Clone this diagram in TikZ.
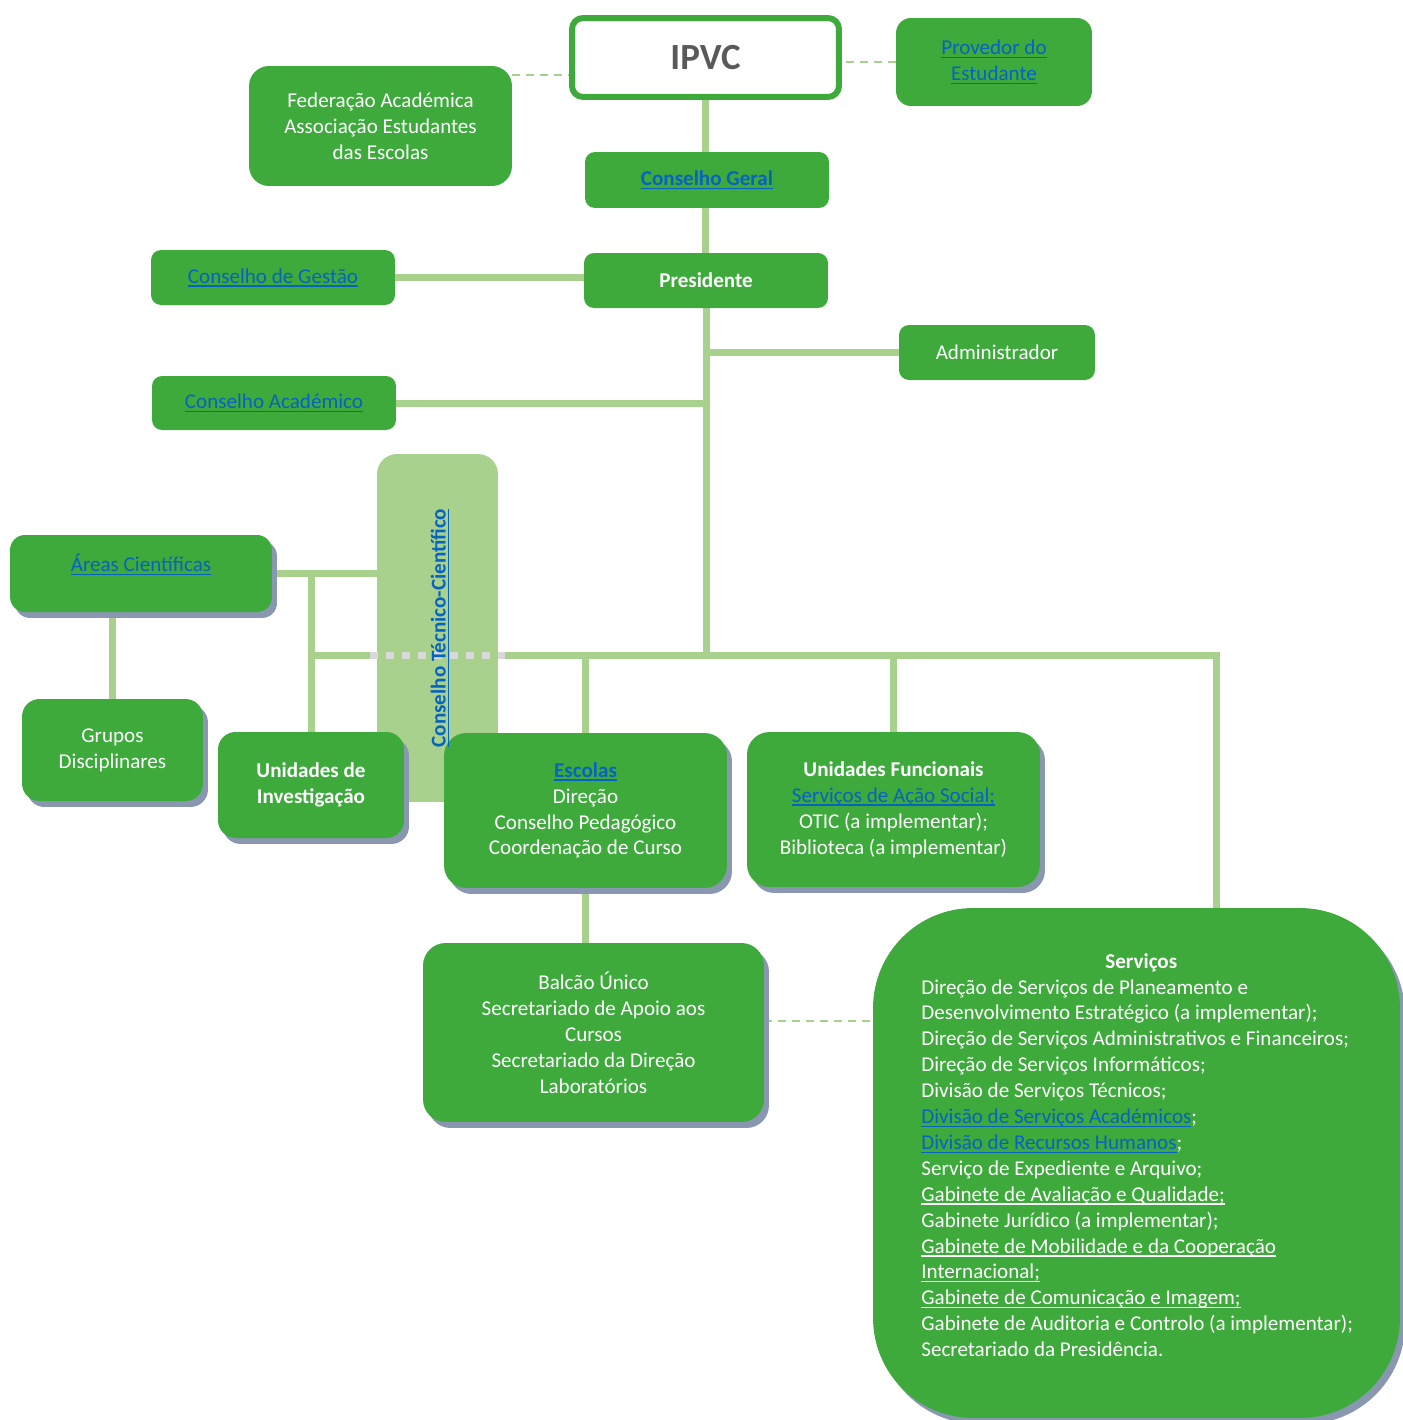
\documentclass[tikz,border=0pt]{standalone}
\usepackage{fontspec}
\setmainfont{Carlito}
\usepackage{tikz}
\usetikzlibrary{shadows,backgrounds,calc}
\definecolor{ipvcgreen}{RGB}{62,170,60}
\definecolor{linegreen}{RGB}{169,209,142}
\definecolor{linkblue}{RGB}{5,99,193}
\definecolor{shadowblue}{RGB}{138,151,176}
\definecolor{dotgray}{RGB}{217,217,217}
\definecolor{titlegray}{RGB}{89,89,89}
\newcommand{\ulc}[1]{{\setbox0=\hbox{#1}\rlap{\rule[-2pt]{\wd0}{0.8pt}}\box0}}
\newcommand{\lnk}[1]{{\color{linkblue}\ulc{#1}}}
\tikzstyle{box}=[rounded corners=0.2cm, fill=ipvcgreen, text=white, align=center, inner sep=0pt, font=\fontsize{12}{14.74}\selectfont]
\tikzstyle{shbox}=[box, rounded corners=0.45cm, drop shadow={shadow xshift=0.1cm, shadow yshift=-0.12cm, fill=shadowblue, opacity=1}]
\tikzstyle{conn}=[linegreen, line width=0.14cm]
\tikzstyle{dashconn}=[linegreen, line width=0.04cm, dash pattern=on 0.16cm off 0.12cm]

\begin{document}
\begin{tikzpicture}[x=0.02cm, y=-0.02cm]
            \useasboundingbox (0,0) rectangle (1403,1420);
            %%%%% topo
            \node[box, fill=white, draw=ipvcgreen, line width=0.12cm, rounded corners=0.22cm, minimum width=5.34cm, minimum height=1.58cm, text=titlegray, font=\fontsize{21}{25}\selectfont\bfseries] (ipvc) at (705.5,57.5) {IPVC};
            \node[box, rounded corners=0.3cm, minimum width=3.92cm, minimum height=1.76cm] (prov) at (994,62) {\lnk{Provedor do}\\\lnk{Estudante}};
            \node[box, rounded corners=0.4cm, minimum width=5.26cm, minimum height=2.4cm] (fed) at (380.5,126) {Federação Académica\\Associação Estudantes\\das Escolas};
            \node[box, minimum width=4.88cm, minimum height=1.12cm] (geral) at (707,180) {\textbf{\lnk{Conselho Geral}}};
            \node[box, minimum width=4.88cm, minimum height=1.1cm] (pres) at (706,280.5) {\textbf{Presidente}};
            \node[box, minimum width=4.88cm, minimum height=1.1cm] (gestao) at (273,277.5) {\lnk{Conselho de Gestão}};
            \node[box, minimum width=3.92cm, minimum height=1.1cm] (admin) at (997,352.5) {Administrador};
            \node[box, minimum width=4.88cm, minimum height=1.08cm] (academ) at (274,403) {\lnk{Conselho Académico}};
            %%%%% CTC
            \node[box, fill=linegreen, rounded corners=0.4cm, minimum width=2.42cm, minimum height=6.96cm] (ctc) at (437.5,628) {};
            \coordinate (bus) at (706,655);
            \coordinate (busr) at (1216,655);
            \draw[dotgray, line width=0.14cm, dash pattern=on 0.16cm off 0.16cm] ($(ctc.west |- bus)+(-7,0)$) -- ($(ctc.east |- bus)+(7,0)$);
            %%%%% esquerda
            \node[shbox, rounded corners=0.3cm, minimum width=5.24cm, minimum height=1.54cm, text depth=0.42cm] (areas) at (141,573.5) {\lnk{Áreas Científicas}};
            \node[shbox, rounded corners=0.35cm, minimum width=3.62cm, minimum height=2.04cm] (grupos) at (112.5,750) {Grupos\\Disciplinares};
            \node[shbox, rounded corners=0.35cm, minimum width=3.72cm, minimum height=2.12cm] (uinv) at (311,785) {\textbf{Unidades de}\\\textbf{Investigação}};
            %%%%% escolas e unidades
            \node[shbox, minimum width=5.66cm, minimum height=3.1cm] (escolas) at (585.5,810.5) {\textbf{\lnk{Escolas}}\\Direção\\Conselho Pedagógico\\Coordenação de Curso};
            \node[shbox, minimum width=5.86cm, minimum height=3.1cm] (ufunc) at (893.5,809.5) {\textbf{Unidades Funcionais}\\\lnk{Serviços de Ação Social;}\\OTIC (a implementar);\\Biblioteca (a implementar)};
            \node[shbox, minimum width=6.82cm, minimum height=3.58cm] (balcao) at (593.5,1032.5) {Balcão Único\\Secretariado de Apoio aos\\Cursos\\Secretariado da Direção\\Laboratórios};
            %%%%% servicos
            \node[shbox, rounded corners=2cm, minimum width=10.54cm, minimum height=10.2cm] (serv) at (1136.5,1163) {};
            \node[anchor=north west, align=left, text=white, inner sep=0pt, font=\fontsize{12}{14.74}\selectfont] (servlist) at (921,953) {\makebox[8.8cm]{\textbf{Serviços}}\\
                Direção de Serviços de Planeamento e\\
                Desenvolvimento Estratégico (a implementar);\\
                Direção de Serviços Administrativos e Financeiros;\\
                Direção de Serviços Informáticos;\\
                Divisão de Serviços Técnicos;\\
                \lnk{Divisão de Serviços Académicos};\\
                \lnk{Divisão de Recursos Humanos};\\
                Serviço de Expediente e Arquivo;\\
                \ulc{Gabinete de Avaliação e Qualidade;}\\
                Gabinete Jurídico (a implementar);\\
                \ulc{Gabinete de Mobilidade e da Cooperação}\\
                \ulc{Internacional;}\\
                \ulc{Gabinete de Comunicação e Imagem;}\\
                Gabinete de Auditoria e Controlo (a implementar);\\
                Secretariado da Presidência.};
            \node[rotate=90, text=linkblue, inner sep=0pt, font=\fontsize{12}{14.74}\selectfont\bfseries] (ctclabel) at (440,628) {\ulc{Conselho Técnico-Científico}};
            %%%%% ligacoes
            \begin{scope}[on background layer]
            \draw[conn] (ipvc.south) -- (ipvc.south |- pres.north);
            \draw[conn] (gestao.east) -- (gestao.east -| pres.west);
            \draw[conn] (pres.south) -- (bus);
            \draw[conn] (pres.south |- admin.west) -- (admin.west);
            \draw[conn] (academ.east) -- (academ.east -| pres.south);
            \draw[conn] (uinv.north |- bus) -- (busr) -- (busr |- serv.north);
            \draw[conn] (areas.east) -- (areas.east -| ctc.west);
            \draw[conn] (uinv.north) -- (uinv.north |- areas.east);
            \draw[conn] (grupos.north) -- (grupos.north |- areas.south);
            \draw[conn] (escolas.north |- bus) -- (escolas.north);
            \draw[conn] (ufunc.north |- bus) -- (ufunc.north);
            \draw[conn] (escolas.south) -- (escolas.south |- balcao.north);
            \coordinate (fdash) at ([yshift=-0.18cm]fed.north east);
            \draw[dashconn] (fdash) -- (fdash -| ipvc.west);
            \draw[dashconn] (prov.west) -- (prov.west -| ipvc.east);
            \coordinate (bdash) at ([yshift=0.24cm]balcao.east);
            \draw[dashconn] (bdash) -- (bdash -| serv.west);
            \end{scope}
        \end{tikzpicture}
\end{document}
